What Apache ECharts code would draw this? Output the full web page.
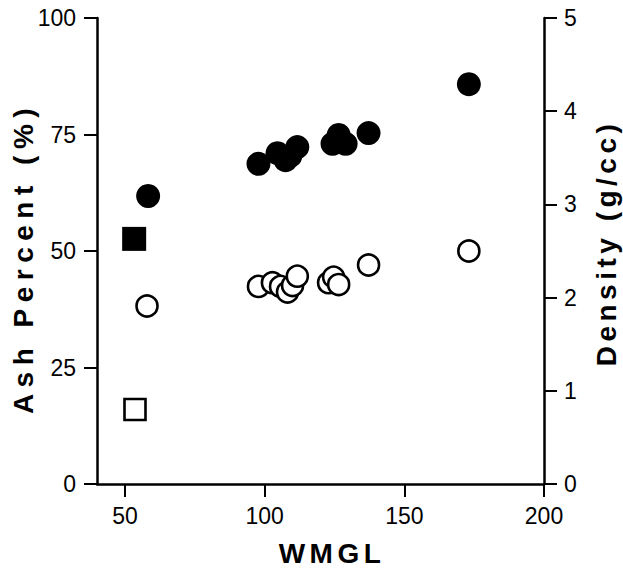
<!DOCTYPE html>
<html><head><meta charset="utf-8">
<script src="https://cdn.jsdelivr.net/npm/echarts@6/dist/echarts.min.js"></script>
<style>
html,body{margin:0;padding:0;background:#fff;}
#main{width:623px;height:571px;}
</style></head><body><div id="main"></div>
<script>
// WMGL (x) and Ash Percent (left axis) — filled circles
const ashWmgl    = [58.3, 97.8, 104.6, 107.5, 109.2, 111.7, 124.3, 126.5, 129.0, 137.2, 173.1];
const ashPercent = [61.8, 68.7, 71.0, 69.5, 70.4, 72.3, 73.0, 74.9, 73.0, 75.3, 85.8];
// WMGL (x) and Density g/cc (right axis) — open circles
const denWmgl    = [57.9, 97.8, 102.8, 105.7, 108.2, 110.0, 111.7, 122.9, 124.7, 126.5, 137.2, 173.1];
const density    = [1.91, 2.12, 2.16, 2.12, 2.06, 2.13, 2.23, 2.16, 2.22, 2.14, 2.35, 2.50];
// reference squares
const refAshWmgl = [53.3];
const refAsh     = [52.6];
const refDenWmgl = [53.6];
const refDensity = [0.80];
// tick labels
const xTicks = [50, 100, 150, 200];
// titles
const xTitle = 'WMGL';
const yLeftTitle = 'Ash Percent (%)';
const yRightTitle = 'Density (g/cc)';

const pairs = (xs, ys) => xs.map((x, i) => [x, ys[i]]);
const FONT = '"Liberation Sans", Arial, Helvetica, sans-serif';
const lineStyle = {color: '#000', width: 2.5};
const tickStyle = {show: true, inside: false, length: 13, lineStyle: {color: '#000', width: 2}};
const labelStyle = {color: '#000', fontSize: 23, fontFamily: FONT};
const titleStyle = {fill: '#000', fontSize: 28, fontWeight: 'bold', fontFamily: FONT,
                    align: 'center', verticalAlign: 'middle'};

const chart = echarts.init(document.getElementById('main'), null, {renderer: 'svg'});
chart.setOption({
  animation: false,
  backgroundColor: '#fff',
  grid: {left: 97, right: 79, top: 18, bottom: 87, containLabel: false},
  xAxis: {
    type: 'value', min: 40, max: 200,
    axisLine: {show: true, onZero: false, lineStyle: lineStyle},
    axisTick: Object.assign({customValues: xTicks}, tickStyle),
    axisLabel: Object.assign({customValues: xTicks, margin: 20}, labelStyle),
    splitLine: {show: false}
  },
  yAxis: [{
    type: 'value', min: 0, max: 100, interval: 25, position: 'left',
    axisLine: {show: true, lineStyle: lineStyle},
    axisTick: Object.assign({}, tickStyle),
    axisLabel: Object.assign({margin: 21}, labelStyle),
    splitLine: {show: false}
  }, {
    type: 'value', min: 0, max: 5, interval: 1, position: 'right',
    axisLine: {show: true, lineStyle: lineStyle},
    axisTick: Object.assign({}, tickStyle),
    axisLabel: Object.assign({margin: 20}, labelStyle),
    splitLine: {show: false}
  }],
  graphic: [
    {type: 'text', x: 332, y: 553, style: Object.assign({text: xTitle}, titleStyle)},
    {type: 'text', x: 23, y: 258, rotation: Math.PI / 2, style: Object.assign({text: yLeftTitle}, titleStyle)},
    {type: 'text', x: 606, y: 243, rotation: Math.PI / 2, style: Object.assign({text: yRightTitle}, titleStyle)}
  ],
  series: [{
    name: 'Ash Percent', type: 'scatter', yAxisIndex: 0,
    symbol: 'circle', symbolSize: 24,
    itemStyle: {color: '#000', opacity: 1},
    data: pairs(ashWmgl, ashPercent)
  }, {
    name: 'Density', type: 'scatter', yAxisIndex: 1,
    symbol: 'circle', symbolSize: 21,
    itemStyle: {color: '#fff', borderColor: '#000', borderWidth: 2.6, opacity: 1},
    data: pairs(denWmgl, density)
  }, {
    name: 'Reference Ash', type: 'scatter', yAxisIndex: 0,
    symbol: 'rect', symbolSize: 24,
    itemStyle: {color: '#000', opacity: 1},
    data: pairs(refAshWmgl, refAsh)
  }, {
    name: 'Reference Density', type: 'scatter', yAxisIndex: 1,
    symbol: 'rect', symbolSize: 21,
    itemStyle: {color: '#fff', borderColor: '#000', borderWidth: 2.6, opacity: 1},
    data: pairs(refDenWmgl, refDensity)
  }]
});

const SPACING = {};
SPACING[xTitle] = 4.5;
SPACING[yLeftTitle] = 6.5;
SPACING[yRightTitle] = 4.5;
function spaceTitles() {
  document.querySelectorAll('#main text').forEach(t => {
    const s = SPACING[t.textContent.trim()];
    if (s !== undefined) t.setAttribute('letter-spacing', String(s));
  });
}
spaceTitles();
chart.on('finished', spaceTitles);
setTimeout(spaceTitles, 0);
</script></body></html>
